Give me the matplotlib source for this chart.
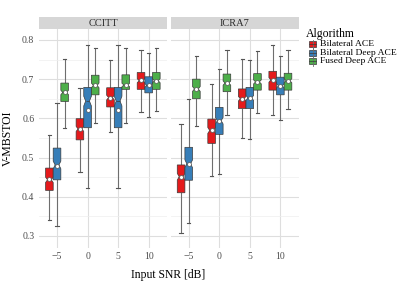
import matplotlib
matplotlib.use("Agg")
import matplotlib.pyplot as plt
from matplotlib.patches import Rectangle
import numpy as np

plt.rcParams['font.family'] = ['Liberation Serif', 'DejaVu Serif']

snr = [-5, 0, 5, 10]
facets = ["CCITT", "ICRA7"]
algorithms = ["Bilateral ACE", "Bilateral Deep ACE", "Fused Deep ACE"]
colors = ["#E41A1C", "#377EB8", "#4DAF4A"]

# CCITT
ccitt_red_whislo = [0.340, 0.462, 0.565, 0.616]
ccitt_red_q1     = [0.416, 0.545, 0.629, 0.674]
ccitt_red_med    = [0.443, 0.573, 0.653, 0.696]
ccitt_red_q3     = [0.473, 0.599, 0.678, 0.717]
ccitt_red_whishi = [0.557, 0.677, 0.748, 0.774]
ccitt_red_mean   = [0.446, 0.573, 0.653, 0.697]

ccitt_blue_whislo = [0.325, 0.423, 0.423, 0.604]
ccitt_blue_q1     = [0.443, 0.576, 0.576, 0.665]
ccitt_blue_med    = [0.481, 0.644, 0.644, 0.684]
ccitt_blue_q3     = [0.524, 0.679, 0.679, 0.706]
ccitt_blue_whishi = [0.640, 0.786, 0.786, 0.766]
ccitt_blue_mean   = [0.479, 0.621, 0.621, 0.684]

ccitt_green_whislo = [0.576, 0.589, 0.588, 0.618]
ccitt_green_q1     = [0.643, 0.660, 0.674, 0.674]
ccitt_green_med    = [0.666, 0.684, 0.685, 0.696]
ccitt_green_q3     = [0.690, 0.710, 0.711, 0.717]
ccitt_green_whishi = [0.752, 0.779, 0.779, 0.780]
ccitt_green_mean   = [0.666, 0.684, 0.686, 0.696]

# ICRA7
icra_red_whislo = [0.307, 0.454, 0.551, 0.609]
icra_red_q1     = [0.410, 0.536, 0.625, 0.672]
icra_red_med    = [0.451, 0.569, 0.650, 0.698]
icra_red_q3     = [0.481, 0.598, 0.675, 0.720]
icra_red_whishi = [0.585, 0.688, 0.751, 0.786]
icra_red_mean   = [0.451, 0.570, 0.650, 0.698]

icra_blue_whislo = [0.332, 0.458, 0.548, 0.595]
icra_blue_q1     = [0.442, 0.559, 0.625, 0.660]
icra_blue_med    = [0.484, 0.594, 0.652, 0.683]
icra_blue_q3     = [0.526, 0.628, 0.679, 0.705]
icra_blue_whishi = [0.649, 0.725, 0.748, 0.760]
icra_blue_mean   = [0.484, 0.594, 0.652, 0.683]

icra_green_whislo = [0.581, 0.609, 0.614, 0.625]
icra_green_q1     = [0.650, 0.668, 0.672, 0.672]
icra_green_med    = [0.675, 0.690, 0.693, 0.696]
icra_green_q3     = [0.700, 0.713, 0.714, 0.715]
icra_green_whishi = [0.759, 0.774, 0.772, 0.774]
icra_green_mean   = [0.675, 0.690, 0.693, 0.696]

data = {
    "CCITT": [
        (ccitt_red_whislo, ccitt_red_q1, ccitt_red_med, ccitt_red_q3, ccitt_red_whishi, ccitt_red_mean),
        (ccitt_blue_whislo, ccitt_blue_q1, ccitt_blue_med, ccitt_blue_q3, ccitt_blue_whishi, ccitt_blue_mean),
        (ccitt_green_whislo, ccitt_green_q1, ccitt_green_med, ccitt_green_q3, ccitt_green_whishi, ccitt_green_mean),
    ],
    "ICRA7": [
        (icra_red_whislo, icra_red_q1, icra_red_med, icra_red_q3, icra_red_whishi, icra_red_mean),
        (icra_blue_whislo, icra_blue_q1, icra_blue_med, icra_blue_q3, icra_blue_whishi, icra_blue_mean),
        (icra_green_whislo, icra_green_q1, icra_green_med, icra_green_q3, icra_green_whishi, icra_green_mean),
    ],
}

W, H = 399, 285
fig = plt.figure(figsize=(W / 100, H / 100), dpi=100)

panel_top = 29
panel_bot = 248
panel_lefts = [39, 170.7]
panel_w = 128.3
box_w = 1.25
offsets = [-1.25, 0, 1.25]
tick_col = "#4d4d4d"

axes = []
for fi, facet in enumerate(facets):
    ax = fig.add_axes([panel_lefts[fi] / W, 1 - panel_bot / H, panel_w / W, (panel_bot - panel_top) / H])
    axes.append(ax)
    ax.set_xlim(-7.95, 13.05)
    ax.set_ylim(0.269, 0.828)
    for s in ax.spines.values():
        s.set_visible(False)
    ax.set_yticks([0.3, 0.4, 0.5, 0.6, 0.7, 0.8])
    ax.set_yticks([0.35, 0.45, 0.55, 0.65, 0.75], minor=True)
    ax.set_xticks(snr)
    ax.set_xticklabels(["\u22125", "0", "5", "10"])
    ax.grid(True, which="major", color="#dedede", lw=0.8)
    ax.grid(True, which="minor", axis="y", color="#eeeeee", lw=0.5)
    ax.set_axisbelow(True)
    ax.tick_params(which="both", length=0, labelsize=7, colors=tick_col)
    ax.tick_params(axis="x", pad=3)
    ax.tick_params(axis="y", pad=3.4)
    if fi == 0:
        ax.set_yticklabels(["0.3", "0.4", "0.5", "0.6", "0.7", "0.8"])
    else:
        ax.set_yticklabels([])

    for ai, (wlo, q1, med, q3, whi, mean) in enumerate(data[facet]):
        stats = []
        for i in range(len(snr)):
            iqr = q3[i] - q1[i]
            nh = 0.12 * iqr
            stats.append(dict(med=med[i], q1=q1[i], q3=q3[i], whislo=wlo[i], whishi=whi[i],
                              mean=mean[i], cilo=med[i] - nh, cihi=med[i] + nh, fliers=[]))
        pos = [s + offsets[ai] for s in snr]
        ax.bxp(stats, positions=pos, widths=box_w, shownotches=True, patch_artist=True,
               showmeans=True, showfliers=False, manage_ticks=False,
               boxprops=dict(facecolor=colors[ai], edgecolor="#3a3a3a", lw=0.5, zorder=3),
               medianprops=dict(color="#3a3a3a", lw=0.5, zorder=4),
               whiskerprops=dict(color="#6e6e6e", lw=0.8, zorder=2),
               capprops=dict(color="#555555", lw=0.8, zorder=2),
               capwidths=0.55,
               meanprops=dict(marker="o", markerfacecolor="white", markeredgecolor="#555555",
                              markersize=2.8, markeredgewidth=0.5, zorder=5))

    # strip
    fig.add_artist(Rectangle((panel_lefts[fi] / W, 1 - 29 / H), panel_w / W, 11.7 / H,
                             transform=fig.transFigure, facecolor="#d6d6d6", edgecolor="none"))
    fig.text((panel_lefts[fi] + panel_w / 2) / W, 1 - 23.2 / H, facet, ha="center", va="center",
             fontsize=7.5, color="#2b2b2b")

fig.text(8 / W, 1 - 138 / H, "V-MBSTOI", rotation=90, ha="center", va="center", fontsize=8.5, color="black")
fig.text(168 / W, 1 - 275 / H, "Input SNR [dB]", ha="center", va="center", fontsize=8.4, color="black")

# legend
fig.text(306 / W, 1 - 34 / H, "Algorithm", ha="left", va="center", fontsize=8.5, color="black")
ys = [44, 52.7, 61.4]
for ai, lab in enumerate(algorithms):
    y = ys[ai]
    fig.add_artist(plt.Line2D([312.5 / W, 312.5 / W], [1 - (y - 4.5) / H, 1 - (y + 4.5) / H],
                              transform=fig.transFigure, color="#6e6e6e", lw=0.6))
    fig.add_artist(Rectangle((309 / W, 1 - (y + 3) / H), 7 / W, 6 / H, transform=fig.transFigure,
                             facecolor=colors[ai], edgecolor="#3a3a3a", lw=0.5))
    fig.add_artist(plt.Line2D([309 / W, 316 / W], [1 - y / H, 1 - y / H],
                              transform=fig.transFigure, color="#3a3a3a", lw=0.5))
    fig.text(320.5 / W, 1 - y / H, lab, ha="left", va="center", fontsize=6.8, color="black")

fig.savefig("out.png", dpi=100)
